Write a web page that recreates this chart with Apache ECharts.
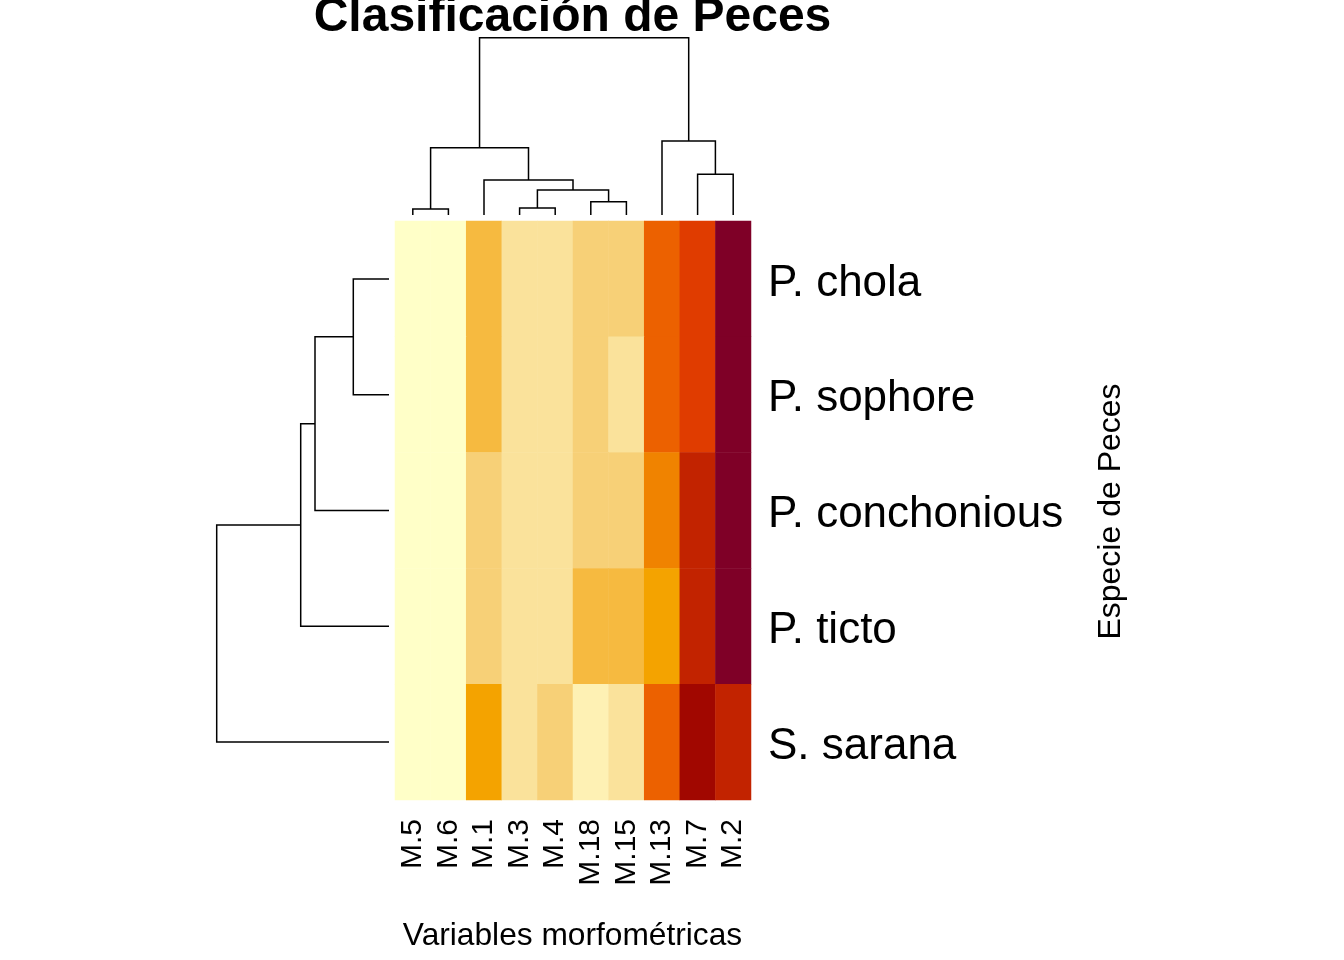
<!DOCTYPE html>
<html><head><meta charset="utf-8">
<script src="https://cdn.jsdelivr.net/npm/echarts@6/dist/echarts.min.js"></script>
<style>html,body{margin:0;padding:0;background:#fff}#c{width:1344px;height:960px}</style>
</head><body><div id="c"></div>
<script>
// ---- data ----
const rowLabels = ['P. chola', 'P. sophore', 'P. conchonious', 'P. ticto', 'S. sarana'];
const colLabels = ['M.5', 'M.6', 'M.1', 'M.3', 'M.4', 'M.18', 'M.15', 'M.13', 'M.7', 'M.2'];
// colour levels (1 = lightest, 12 = darkest), rows x cols
const levChola       = [1, 1, 5, 3, 3, 4, 4, 8, 9, 12];
const levSophore     = [1, 1, 5, 3, 3, 4, 3, 8, 9, 12];
const levConchonious = [1, 1, 4, 3, 3, 4, 4, 7, 10, 12];
const levTicto       = [1, 1, 4, 3, 3, 5, 5, 6, 10, 12];
const levSarana      = [1, 1, 6, 3, 4, 2, 3, 8, 11, 10];
const palette = ['#FFFFC8', '#FEF1B4', '#FAE29B', '#F7D077', '#F6BA40', '#F4A300',
                 '#F08300', '#EC6100', '#E03C00', '#C22300', '#A10700', '#7F0027'];
// column dendrogram (R-style merges: negative = leaf position, positive = earlier merge)
const colMerge = [[-1, -2], [-4, -5], [-6, -7], [2, 3], [-3, 4], [-9, -10], [1, 5], [-8, 6], [7, 8]];
const colHeight = [6, 7, 13.3, 25, 35, 40.7, 67.3, 74, 177.3];
// row dendrogram
const rowMerge = [[-1, -2], [-3, 1], [-4, 2], [-5, 3]];
const rowHeight = [35.7, 74, 88.3, 172.3];

const titleText = 'Clasificación de Peces';
const xLab = 'Variables morfométricas';
const yLab = 'Especie de Peces';

// ---- build ----
const levels = [levChola, levSophore, levConchonious, levTicto, levSarana];
const heatData = [];
levels.forEach((row, r) => row.forEach((v, c) => heatData.push([c, r, v])));

function dendro(merge, heights) {
  const pos = [], segs = [];
  merge.forEach((m, k) => {
    const pts = m.map(ch => ch < 0 ? [(-ch - 1) + 0.5, 0] : [pos[ch - 1], heights[ch - 1]]);
    const h = heights[k];
    segs.push([[pts[0][0], pts[0][1]], [pts[0][0], h], [pts[1][0], h], [pts[1][0], pts[1][1]]]);
    pos[k] = (pts[0][0] + pts[1][0]) / 2;
  });
  return segs;
}
const colSegs = dendro(colMerge, colHeight).map(s => ({coords: s}));
const rowSegs = dendro(rowMerge, rowHeight).map(s => ({coords: s.map(p => [p[1], p[0]])}));

const FONT = 'Liberation Sans, Arial, sans-serif';
const chart = echarts.init(document.getElementById('c'), null, {renderer: 'canvas'});
const hidden = {show: false};
chart.setOption({
  backgroundColor: '#ffffff',
  animation: false,
  grid: [
    {left: 395, top: 221, width: 356, height: 579},
    {left: 395, top: 215 - colHeight[colHeight.length - 1], width: 356, height: colHeight[colHeight.length - 1]},
    {left: 389 - rowHeight[rowHeight.length - 1], top: 221, width: rowHeight[rowHeight.length - 1], height: 579}
  ],
  xAxis: [
    {type: 'category', gridIndex: 0, data: colLabels, position: 'bottom',
     axisLine: hidden, axisTick: hidden, splitLine: hidden,
     axisLabel: {rotate: 90, fontSize: 30, margin: 19, color: '#000', fontFamily: FONT, interval: 0}},
    {type: 'value', gridIndex: 1, min: 0, max: colLabels.length, show: false},
    {type: 'value', gridIndex: 2, min: 0, max: rowHeight[rowHeight.length - 1], inverse: true, show: false}
  ],
  yAxis: [
    {type: 'category', gridIndex: 0, data: rowLabels, inverse: true, position: 'right',
     axisLine: hidden, axisTick: hidden, splitLine: hidden,
     axisLabel: {fontSize: 44, margin: 17, color: '#000', fontFamily: FONT, align: 'left', interval: 0,
                 verticalAlign: 'top', lineHeight: 9}},
    {type: 'value', gridIndex: 1, min: 0, max: colHeight[colHeight.length - 1], show: false},
    {type: 'value', gridIndex: 2, min: 0, max: rowLabels.length, inverse: true, show: false}
  ],
  visualMap: {
    type: 'piecewise', show: false, dimension: 2, seriesIndex: 0,
    pieces: palette.map((c, i) => ({value: i + 1, color: c}))
  },
  series: [
    {type: 'heatmap', xAxisIndex: 0, yAxisIndex: 0, data: heatData, silent: true,
     itemStyle: {borderWidth: 0}},
    {type: 'lines', coordinateSystem: 'cartesian2d', xAxisIndex: 1, yAxisIndex: 1, polyline: true,
     clip: false, silent: true, data: colSegs, lineStyle: {color: '#000', width: 1.5, opacity: 1}},
    {type: 'lines', coordinateSystem: 'cartesian2d', xAxisIndex: 2, yAxisIndex: 2, polyline: true,
     clip: false, silent: true, data: rowSegs, lineStyle: {color: '#000', width: 1.5, opacity: 1}}
  ],
  graphic: [
    {type: 'text', x: 572.5, y: 18, silent: true,
     style: {text: titleText, font: 'bold 48px ' + FONT, fill: '#000', align: 'center', verticalAlign: 'middle'}},
    {type: 'text', x: 572.5, y: 936.5, silent: true,
     style: {text: xLab, font: '31.7px ' + FONT, fill: '#000', align: 'center', verticalAlign: 'middle'}},
    {type: 'text', x: 1111, y: 511.5, rotation: Math.PI / 2, silent: true,
     style: {text: yLab, font: '32px ' + FONT, fill: '#000', align: 'center', verticalAlign: 'middle'}}
  ]
});
</script></body></html>
